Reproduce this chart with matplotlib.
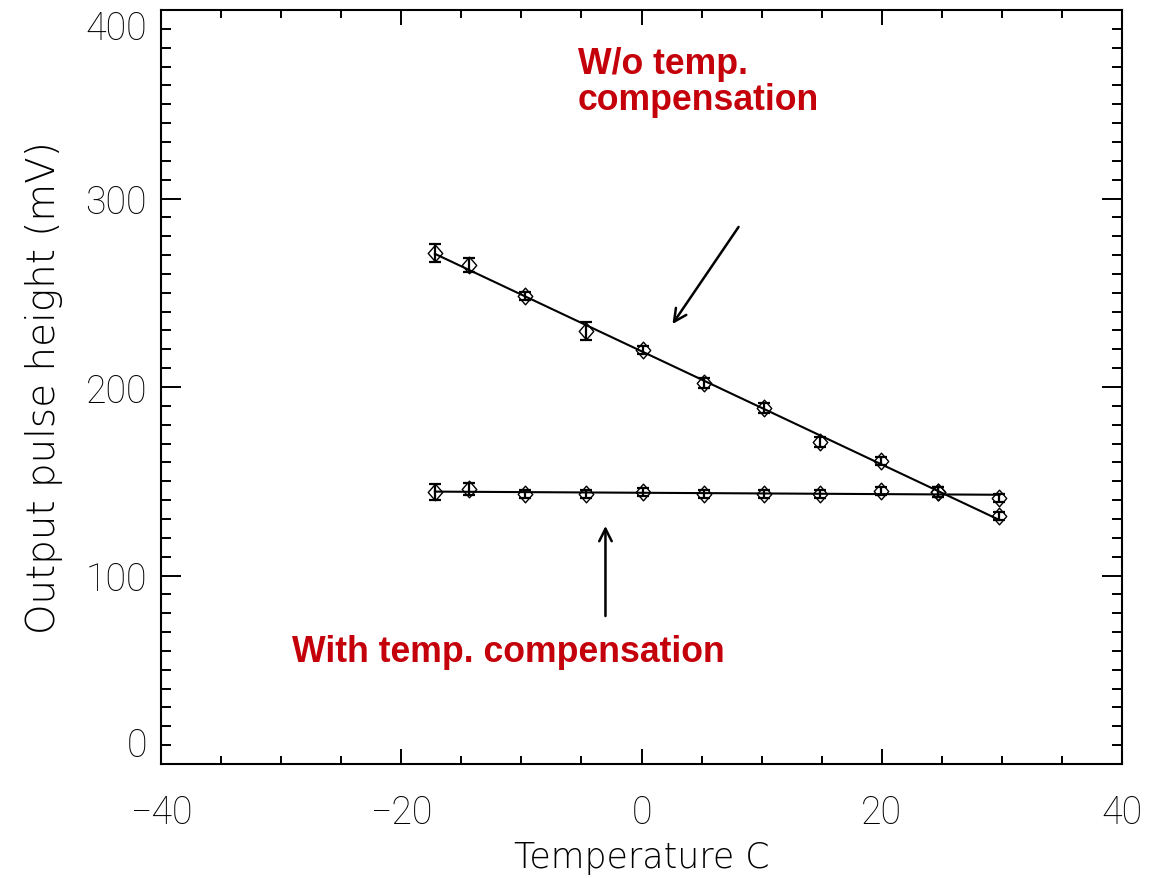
import numpy as np
import matplotlib
matplotlib.use("Agg")
import matplotlib.pyplot as plt
from matplotlib.path import Path

# ---- data ----
temp_wo = [-17.2, -14.4, -9.7, -4.6, 0.1, 5.2, 10.2, 14.9, 19.9, 24.7, 29.8]
ph_wo = [271.1, 264.7, 248.3, 229.7, 219.6, 202.1, 188.9, 170.8, 160.7, 144.3, 131.6]
err_wo = [4.8, 3.5, 2.0, 4.8, 2.0, 2.5, 2.5, 2.5, 2.0, 2.5, 2.0]

temp_with = [-17.2, -14.4, -9.7, -4.6, 0.1, 5.2, 10.2, 14.9, 19.9, 24.7, 29.8]
ph_with = [144.3, 145.9, 143.2, 143.2, 144.3, 143.2, 143.2, 143.2, 144.8, 144.3, 141.1]
err_with = [4.0, 3.0, 2.0, 2.0, 2.0, 2.0, 2.0, 2.0, 2.0, 2.5, 2.0]

xticks = [-40, -20, 0, 20, 40]
yticks = [0, 100, 200, 300, 400]

label_wo = ["W/o temp.", "compensation"]
label_with = "With temp. compensation"
xlabel = "Temperature C"
ylabel = "Output pulse height (mV)"

red = "#C4000B"
tick_font = "Roboto"
label_font = "DejaVu Sans"

fig = plt.figure(figsize=(11.51, 8.79), dpi=100)
ax = fig.add_axes([161/1151, 1-765/879, (1122-161)/1151, (765-11)/879])

diamond = Path([(-0.87, 0), (0, 1), (0.87, 0), (0, -1), (-0.87, 0)],
               [Path.MOVETO, Path.LINETO, Path.LINETO, Path.LINETO, Path.CLOSEPOLY])

for t, p, e in [(temp_wo, ph_wo, err_wo), (temp_with, ph_with, err_with)]:
    t = np.array(t); p = np.array(p)
    ax.errorbar(t, p, yerr=e, fmt='none', ecolor='black', elinewidth=1.6,
                capsize=4, capthick=1.6, zorder=3)
    ax.plot(t, p, linestyle='none', marker=diamond, markersize=12,
            markerfacecolor='none', markeredgecolor='black', markeredgewidth=1.0, zorder=4)
    k, b = np.polyfit(t, p, 1)
    xs = np.array([t.min(), t.max()])
    ax.plot(xs, k*xs + b, color='black', lw=1.5, zorder=2)

ax.set_xlim(-40, 40)
ax.set_ylim(0, 400)
ax.set_xticks(xticks)
ax.set_yticks(yticks)
ax.set_xticks(np.arange(-40, 41, 5), minor=True)
ax.set_yticks(np.arange(0, 401, 10), minor=True)
ax.set_xticklabels(["\u2212" + str(-v) if v < 0 else str(v) for v in xticks])
ax.set_yticklabels([str(v) for v in yticks])

for s in ax.spines.values():
    s.set_linewidth(1.5)

ax.tick_params(axis='x', which='major', direction='in', length=11, width=1.4,
               top=True, pad=21, labelsize=27)
ax.tick_params(axis='x', which='minor', direction='in', length=5.8, width=1.4, top=True)
ax.tick_params(axis='y', which='major', direction='in', length=14.4, width=1.4,
               right=True, pad=10, labelsize=27)
ax.tick_params(axis='y', which='minor', direction='in', length=7.2, width=1.4, right=True)

for lab in ax.get_xticklabels() + ax.get_yticklabels():
    lab.set_fontfamily(tick_font)
    lab.set_fontweight('light')
    lab.set_color('black')
ylabs = ax.get_yticklabels()
ylabs[0].set_va('bottom')
ylabs[-1].set_va('top')

ax.set_xlabel(xlabel, fontsize=25, fontfamily=label_font, fontweight=200,
              color='black', labelpad=7)
ax.set_ylabel(ylabel, fontsize=28, fontfamily=label_font, fontweight=200,
              color='black', labelpad=16)

# annotations
ax.text(-5.25, 366.6, label_wo[0], color=red, fontsize=25.7, fontweight='bold',
        fontfamily='Liberation Sans', ha='left', va='baseline')
ax.text(-5.33, 347.5, label_wo[1], color=red, fontsize=25.7, fontweight='bold',
        fontfamily='Liberation Sans', ha='left', va='baseline')
ax.text(-29.08, 54.6, label_with, color=red, fontsize=25.7, fontweight='bold',
        fontfamily='Liberation Sans', ha='left', va='baseline')

arrow = dict(arrowstyle='->,head_length=0.9,head_width=0.45', color='black', lw=1.8,
             shrinkA=0, shrinkB=0)
ax.annotate('', xy=(2.58, 233.4), xytext=(8.08, 284.9), arrowprops=arrow)
ax.annotate('', xy=(-3.0, 126.3), xytext=(-3.0, 78.5), arrowprops=arrow)

fig.savefig('out.png', dpi=100)
